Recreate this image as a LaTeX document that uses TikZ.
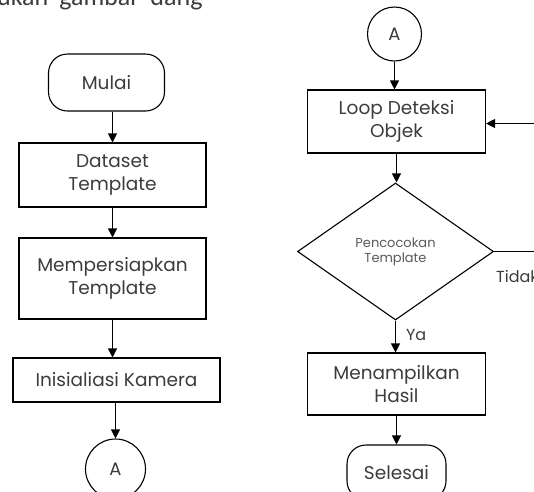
\documentclass[tikz,border=0pt]{standalone}
\usepackage{fontspec}
\setmainfont{Poppins}
\newfontfamily\bodyfont{Carlito}
\usetikzlibrary{shapes.geometric,arrows.meta}
\definecolor{txt}{HTML}{3C3C3C}
\definecolor{txtlight}{HTML}{5A5A5A}
\tikzset{
  box/.style={draw=black, line width=1.1pt, rectangle, align=center, text=txt, font=\fontsize{18.5}{23}\selectfont, inner sep=0pt},
  term/.style={box, rounded corners=19pt},
  conn/.style={draw=black, line width=1.1pt, circle, inner sep=0pt, text=txt, font=\fontsize{18}{20}\selectfont},
  dec/.style={draw=black, line width=1.1pt, diamond, inner sep=0pt, align=center, text=txtlight, font=\fontsize{13}{15}\selectfont},
  flow/.style={draw=black, line width=1.1pt, -{Triangle[length=9pt,width=9pt]}},
  plain/.style={draw=black, line width=1.1pt},
  lbl/.style={text=txt, font=\fontsize{16}{18}\selectfont, inner sep=0pt}
}
\begin{document}
\begin{tikzpicture}[x=1pt,y=-1pt]
\useasboundingbox (0,0) rectangle (534,491);
\fill[white] (0,0) rectangle (534,491);
\clip (0,0) rectangle (534,491);
% partial text line at top
\node[anchor=base west, inner sep=0pt, text=txt, font=\bodyfont\fontsize{26}{30}\selectfont] (top) at (-3,5) {ukan\hspace{11pt}gambar\hspace{11pt}dang};
% left column
\node[term, minimum width=116pt, minimum height=57pt] (mulai) at (106.5,82.5) {Mulai};
\node[box, minimum width=187pt, minimum height=64pt] (ds) at (112.5,175) {Dataset\\Template};
\node[box, minimum width=187pt, minimum height=81pt] (mp) at (112.5,278.5) {Mempersiapkan\\Template};
\node[box, minimum width=207pt, minimum height=44pt] (ik) at (116.5,380) {Inisialiasi Kamera};
\node[conn, minimum size=60pt] (a1) at (115.5,469) {A};
% right column
\node[conn, minimum size=54pt] (a2) at (394.5,34) {A};
\node[box, minimum width=178pt, minimum height=63pt] (loop) at (396.5,121.5) {Loop Deteksi\\Objek};
\node[dec, minimum width=196pt, minimum height=137pt] (pt) at (395.5,251.5) {Pencocokan\\Template};
\node[box, minimum width=178pt, minimum height=62pt] (mh) at (396.5,384) {Menampilkan\\Hasil};
\node[term, minimum width=99pt, minimum height=55pt] (sel) at (396.5,472.5) {Selesai};
\coordinate (inR) at (540,123.5);
\coordinate (outR) at (540,251.5);
% connectors
\draw[flow] (ds.north |- mulai.south) -- (ds.north);
\draw[flow] (ds.south) -- (mp.north);
\draw[flow] (mp.south) -- (mp.south |- ik.north);
\draw[flow] (a1.north |- ik.south) -- (a1.north);
\draw[flow] (a2.south) -- (a2.south |- loop.north);
\draw[flow] (loop.south) -- (loop.south |- pt.north);
\draw[flow] (pt.south) -- node[lbl, right=10pt, pos=0.45] (ya) {Ya} (pt.south |- mh.north);
\draw[flow] (mh.south) -- (sel.north);
\draw[flow] (inR) -- (loop.east |- inR);
\draw[plain] (pt.east) -- (outR);
\node[lbl, anchor=west] (tidak) at (496,276) {Tidak};
\end{tikzpicture}
\end{document}
